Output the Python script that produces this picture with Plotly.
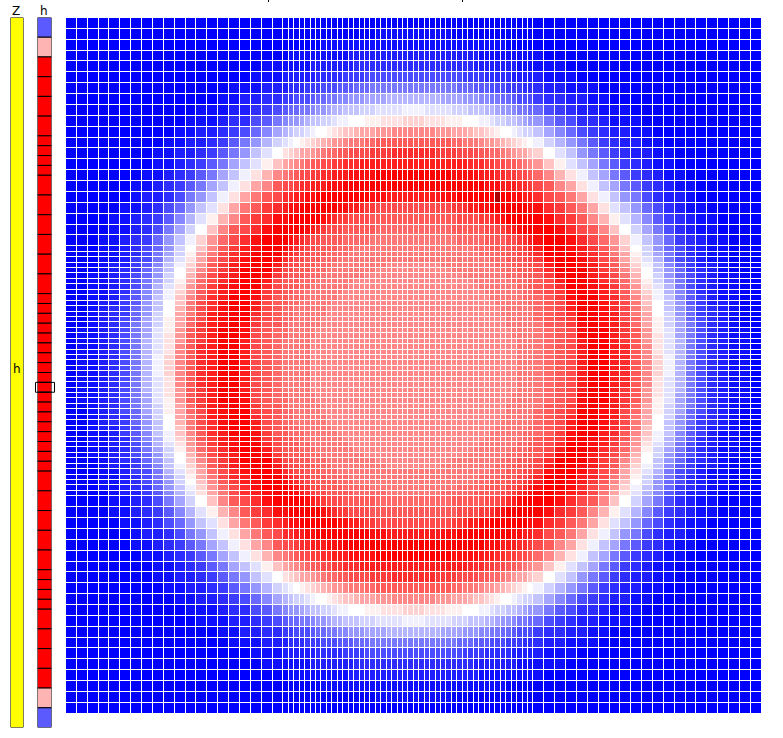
import numpy as np
import plotly.graph_objects as go

# Levels read by eye, base 36: 0 blue, h white, y red, z dark red.
# The map looks mirrored in both directions, so one corner is listed:
# row/column 0 is the outer edge, index 43 is next to the centre.
corner = [
    "00000000000000000000000000000000000000000000",
    "00000000000000000000000000000000000001111111",
    "00000000000000000000000000011111111111111111",
    "00000000000000000000011111111111222222222222",
    "00000000000000000011111112222222233333333333",
    "00000000000000000111222222333334444555555555",
    "00000000000000011122233344455566677788888888",
    "00000000000000112233445556778899aaabbbbccccc",
    "00000000000011122345677889aabccdddeeefffffgg",
    "000000000001112335689aabcddeefgghhhiiijjjjkk",
    "0000000000112234579bcdeefghhijkllmnnnooopppp",
    "00000000011223468acefghijklmnoopqqqrrsssssss",
    "0000000011223468adfhjklnnopqrrssttttuuuuvvvv",
    "000000001123468bdfilnopqrssttuuvvvwwwwwwwwww",
    "00000001123468bdgjmpqrsttuuvvwwwxxxxxyyyyyyy",
    "0000001123468bdgjnpsttuvvwwwxxxyyyyyyyyyyyyy",
    "000000122358adgjnqstvvwwxxyyyyyyyyyyxxxwwwww",
    "00000112357adfjnqsuvwxxyyyyyyyxxwwvuuttttttt",
    "00001123469cfimpsuvxxyyyyyyxwvuuttttssssssss",
    "0000112358behlpstvxyyyyyxwvutttssssssrrrrrrr",
    "0000122469cfjnqtvwxyyyxwvuttsssssrrrrrrqqqqq",
    "000112347adgkortvxyyyxwvuttssssrrrrrqqqqqqqq",
    "000112357aehlpsuwxyyxwvuttssssrrrqqqqqqqqqqq",
    "000112358beinqtvwyyywvuttsssrrrrqqqqqqqqqqqq",
    "000112458cfjnrtvxyyxvuttsssrrrqqqqqqqqqqqqqq",
    "000122469dgkosuwxyywuttsssrrrqqqqqqqqqqppppp",
    "00012347adhlpsuwyyyvttsssrrrqqqqqqqqqppppppp",
    "00112357aehmqtvwyyxutsssrrrqqqqqqqqppppppppp",
    "00112358beinrtvxyywtsssrrrqqqqqqqppppppppppp",
    "00112358cfjoruwxyyvtsssrrqqqqqqqpppppppppppp",
    "00112369cgkosuwxyxutssrrqqqqqqqppppppppppppp",
    "00112469dglpsvwyyxussrrrqqqqqqpppppppppppppp",
    "0012246adhlqtvxyywtssrrqqqqqqppppppppppppppp",
    "0012347adhmqtvxyywtsrrqqqqqqpppppppppppppppp",
    "0012347aehnqtwxyyvtsrrqqqqqqpppppppppppppppp",
    "0012357beinrtwxyyutsrrqqqqqppppppppppppppppp",
    "0012358beinruwxyxussrqqqqqqppppppppppppppppp",
    "0112358bfiosuwyyxtsrrqqqqqpppppppppppppppppp",
    "0112358bfjosuwyyxtsrrqqqqqpppppppppppppppppp",
    "0112358cfjosuwyywtsrqqqqqppppppppppppppppppp",
    "0112358cfjpsvwyywtsrqqqqqppppppppppppppppppp",
    "0112358cfjpsvwyywtsrqqqqqppppppppppppppppppp",
    "0112358cgkpsvwyywtsrqqqqqppppppppppppppppppp",
    "0112358cgkpsvwyywtsrqqqqqppppppppppppppppppp",
]
for i, row in enumerate(corner):
    assert len(row) == 44, (i, len(row))

# cell sizes of the main map
col_sizes = [2] * 20 + [1] * 46 + [2] * 21
row_sizes = [2] * 21 + [1] * 46 + [2] * 20

# side bars
h_sizes = [2] * 6 + [1] * 4 + [2] * 6 + [1] * 18 + [2] * 5 + [1] * 4 + [2] * 6
h_levels = [6, 22] + [34] * 45 + [22, 6]
z_sizes = [72]
selected = 25

# map a full column/row index to its listed corner index
left = list(range(44))
col_map = left + [a for a in reversed(left) if a != 20]
row_map = col_map[::-1]
z = [[int(corner[a][b], 36) for b in col_map] for a in row_map]
z[16][59] = 35

x_edges = np.concatenate([[0], np.cumsum(col_sizes)])
y_edges = np.concatenate([[0], np.cumsum(row_sizes)])
h_base = np.concatenate([[0], np.cumsum(h_sizes)[:-1]])

W, H = 783, 738
colors = [
    [0, "rgb(0,0,255)"],
    [17 / 35, "rgb(255,255,255)"],
    [34 / 35, "rgb(255,0,0)"],
    [1, "rgb(170,0,0)"],
]


def px(a, b):
    return [a / W, b / W]


def py(top, bottom):
    return [1 - bottom / H, 1 - top / H]


fig = go.Figure()
fig.add_trace(go.Heatmap(x=x_edges, y=y_edges, z=z, colorscale=colors, zmin=0, zmax=35,
                         xgap=1, ygap=1, showscale=False))
fig.add_trace(go.Bar(x=[0], y=z_sizes, base=[0], width=1, xaxis="x2", yaxis="y2",
                     marker=dict(color="rgb(255,255,0)", line=dict(color="black", width=1)),
                     cliponaxis=False))
fig.add_trace(go.Bar(x=[0] * len(h_sizes), y=h_sizes, base=h_base, width=1, xaxis="x3", yaxis="y2",
                     marker=dict(color=h_levels, colorscale=colors, cmin=0, cmax=35,
                                 line=dict(color="black", width=1)),
                     cliponaxis=False))

fig.update_layout(
    width=W, height=H, margin=dict(l=0, r=0, t=0, b=0),
    paper_bgcolor="white", plot_bgcolor="white", showlegend=False, barmode="overlay",
    xaxis=dict(domain=px(66, 761.7), range=[0, sum(col_sizes)], visible=False),
    yaxis=dict(domain=py(18, 713.7), range=[sum(row_sizes), 0], visible=False),
    xaxis2=dict(domain=px(10.5, 23.5), range=[-0.5, 0.5], anchor="y2", visible=False),
    xaxis3=dict(domain=px(37.5, 51.5), range=[-0.5, 0.5], anchor="y2", visible=False),
    yaxis2=dict(domain=py(17.5, 727.5), range=[sum(h_sizes), 0], anchor="x2", visible=False),
)

font = dict(family="DejaVu Sans", size=12, color="black")
for label, lx, ly in [("Z", 16, 11), ("h", 44, 11), ("h", 17, 369)]:
    fig.add_annotation(text=label, x=lx / W, y=1 - ly / H, xref="paper", yref="paper",
                       showarrow=False, font=font, xanchor="center", yanchor="middle")

# selected row box on the h bar
fig.add_shape(type="rect", xref="paper", yref="y2", x0=35.5 / W, x1=54.5 / W,
              y0=sum(h_sizes[:selected]), y1=sum(h_sizes[:selected + 1]),
              line=dict(color="black", width=1), fillcolor="rgba(0,0,0,0)")

# bits of a clipped title at the very top
for mx in [268.5, 462.5]:
    fig.add_shape(type="line", xref="paper", yref="paper", x0=mx / W, x1=mx / W,
                  y0=1 - 2 / H, y1=1, line=dict(color="black", width=1))

fig.write_html("out.html", config={"displayModeBar": False},
               post_script="document.body.style.margin='0';document.body.style.overflow='hidden';")
